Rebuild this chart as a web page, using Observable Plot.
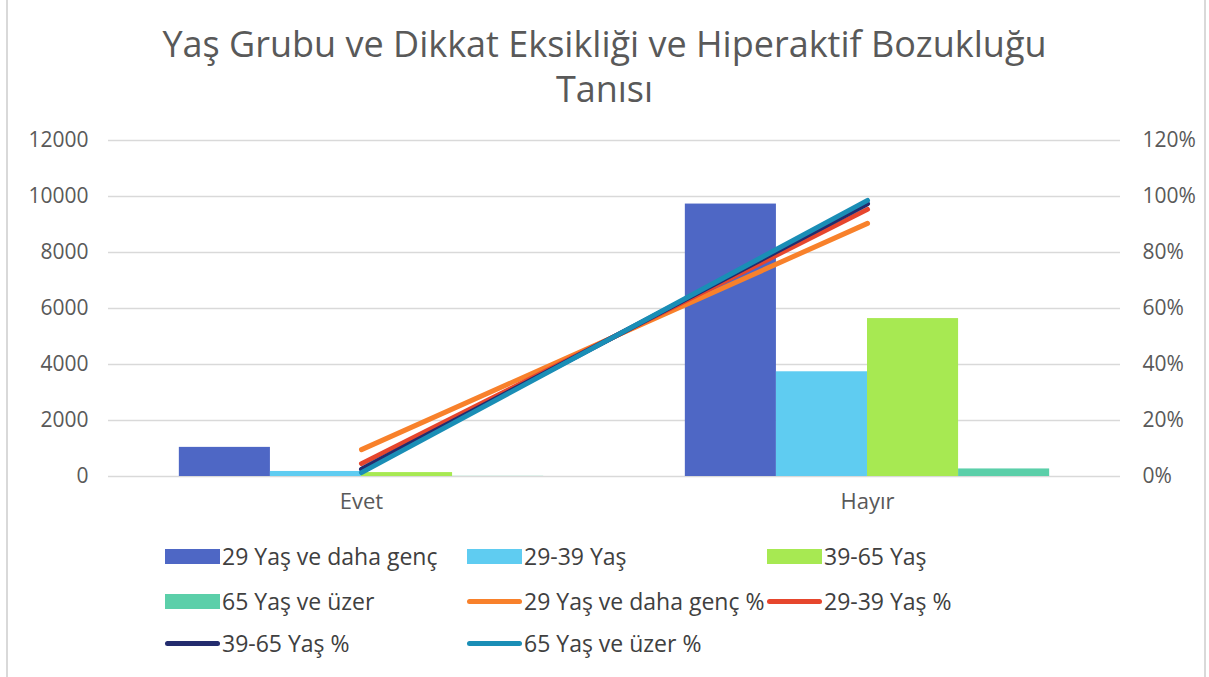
<!DOCTYPE html>
<html><head><meta charset="utf-8">
<script src="https://cdn.jsdelivr.net/npm/d3@7"></script>
<script src="https://cdn.jsdelivr.net/npm/@observablehq/plot@0.6"></script>
<style>
html,body{margin:0;padding:0;background:#fff;}
body{width:1209px;height:677px;position:relative;overflow:hidden;font-family:"Open Sans",sans-serif;color:#595959;}
#frame{position:absolute;left:6px;top:-2px;width:1196px;height:681px;border-left:2px solid #D9D9D9;border-right:2px solid #D9D9D9;}
#title{position:absolute;left:0;width:1209px;top:21px;text-align:center;font-size:36px;line-height:45px;color:#595959;}
#chart{position:absolute;left:0;top:120px;}
#legend{position:absolute;left:0;top:0;width:1209px;height:677px;}
.li{position:absolute;display:flex;align-items:center;font-size:23px;white-space:nowrap;color:#404040;}
.sw{display:inline-block;width:55px;margin-right:2px;}
</style></head>
<body>
<div id="frame"></div>
<div id="title">Yaş Grubu ve Dikkat Eksikliği ve Hiperaktif Bozukluğu<br>Tanısı</div>
<div id="chart"></div>
<div id="legend"></div>
<script>
const categories = ["Evet", "Hayır"];
const series = ["29 Yaş ve daha genç", "29-39 Yaş", "39-65 Yaş", "65 Yaş ve üzer"];
const evetCounts = [1040, 180, 140, 5];
const hayirCounts = [9730, 3740, 5640, 270];
const pctSeries = ["29 Yaş ve daha genç %", "29-39 Yaş %", "39-65 Yaş %", "65 Yaş ve üzer %"];
const evetPct = [9.6, 4.6, 2.6, 1.4];
const hayirPct = [90.4, 95.4, 97.4, 98.6];
const yTicks = [0, 2000, 4000, 6000, 8000, 10000, 12000];
const pctTicks = [0, 20, 40, 60, 80, 100, 120];

const barColors = ["#4E67C5", "#5FCCF1", "#A7E952", "#5BCFA9"];
const lineColors = ["#F8812B", "#E6462D", "#232C6E", "#1A8EB6"];

const barData = [];
series.forEach((s, i) => {
  barData.push({cat: categories[0], series: s, i, count: evetCounts[i]});
  barData.push({cat: categories[1], series: s, i, count: hayirCounts[i]});
});
const lineData = [];
pctSeries.forEach((s, i) => {
  lineData.push({cat: categories[0], series: s, i, pct: evetPct[i]});
  lineData.push({cat: categories[1], series: s, i, pct: hayirPct[i]});
});

const W = 1209, H = 400, ml = 108, mr = 89, mt = 20, mb = 44;
const bw = (W - ml - mr) / categories.length;
const barW = bw * 0.18;
const off = bw / 2 - 2 * barW;
const pctToY = p => p * 100; // 100% aligns with 10000 on the left axis (120% ↔ 12000)

const chart = Plot.plot({
  width: W, height: H,
  marginLeft: ml, marginRight: mr, marginTop: mt, marginBottom: mb,
  style: {fontFamily: "'Open Sans', sans-serif", fontSize: "21px", color: "#595959", background: "transparent", overflow: "visible"},
  x: {domain: categories, padding: 0, axis: null},
  y: {domain: [0, 12000], axis: null},
  marks: [
    Plot.gridY(yTicks, {stroke: "#D9D9D9", strokeOpacity: 1, strokeWidth: 1.5}),
    Plot.axisY(yTicks, {anchor: "left", tickSize: 0, tickPadding: 20, label: null, fontSize: 21, fill: "#595959", tickFormat: d => String(d)}),
    Plot.axisY(pctTicks.map(pctToY), {anchor: "right", tickSize: 0, tickPadding: 22, label: null, fontSize: 21, fill: "#595959", tickFormat: d => Math.round(d / 100) + "%"}),
    Plot.axisX({tickSize: 0, tickPadding: 17, label: null, fontSize: 22, fill: "#595959"}),
    ...series.map((s, i) => Plot.barY(barData.filter(d => d.i === i), {
      x: "cat", y: "count", fill: barColors[i],
      insetLeft: off + i * barW, insetRight: bw - off - (i + 1) * barW
    })),
    ...pctSeries.map((s, i) => Plot.lineY(lineData.filter(d => d.i === i), {
      x: "cat", y: d => pctToY(d.pct), stroke: lineColors[i], strokeWidth: 5, strokeLinecap: "round"
    }))
  ]
});
document.getElementById("chart").appendChild(chart);

// Legend
const legend = document.getElementById("legend");
const items = [
  ...series.map((s, i) => ({label: s, color: barColors[i], type: "bar"})),
  ...pctSeries.map((s, i) => ({label: s, color: lineColors[i], type: "line"}))
];
const colX = [165, 467, 767];
const rowY = [556, 601, 643];
items.forEach((it, k) => {
  const el = document.createElement("div");
  el.className = "li";
  el.style.left = colX[k % 3] + "px";
  el.style.top = (rowY[Math.floor(k / 3)] - 16) + "px";
  el.style.height = "32px";
  const sw = document.createElement("span");
  sw.className = "sw";
  if (it.type === "bar") { sw.style.height = "15px"; sw.style.background = it.color; }
  else { sw.style.height = "5px"; sw.style.borderRadius = "3px"; sw.style.background = it.color; }
  el.appendChild(sw);
  const t = document.createElement("span");
  t.textContent = it.label;
  el.appendChild(t);
  legend.appendChild(el);
});
</script>
</body></html>
